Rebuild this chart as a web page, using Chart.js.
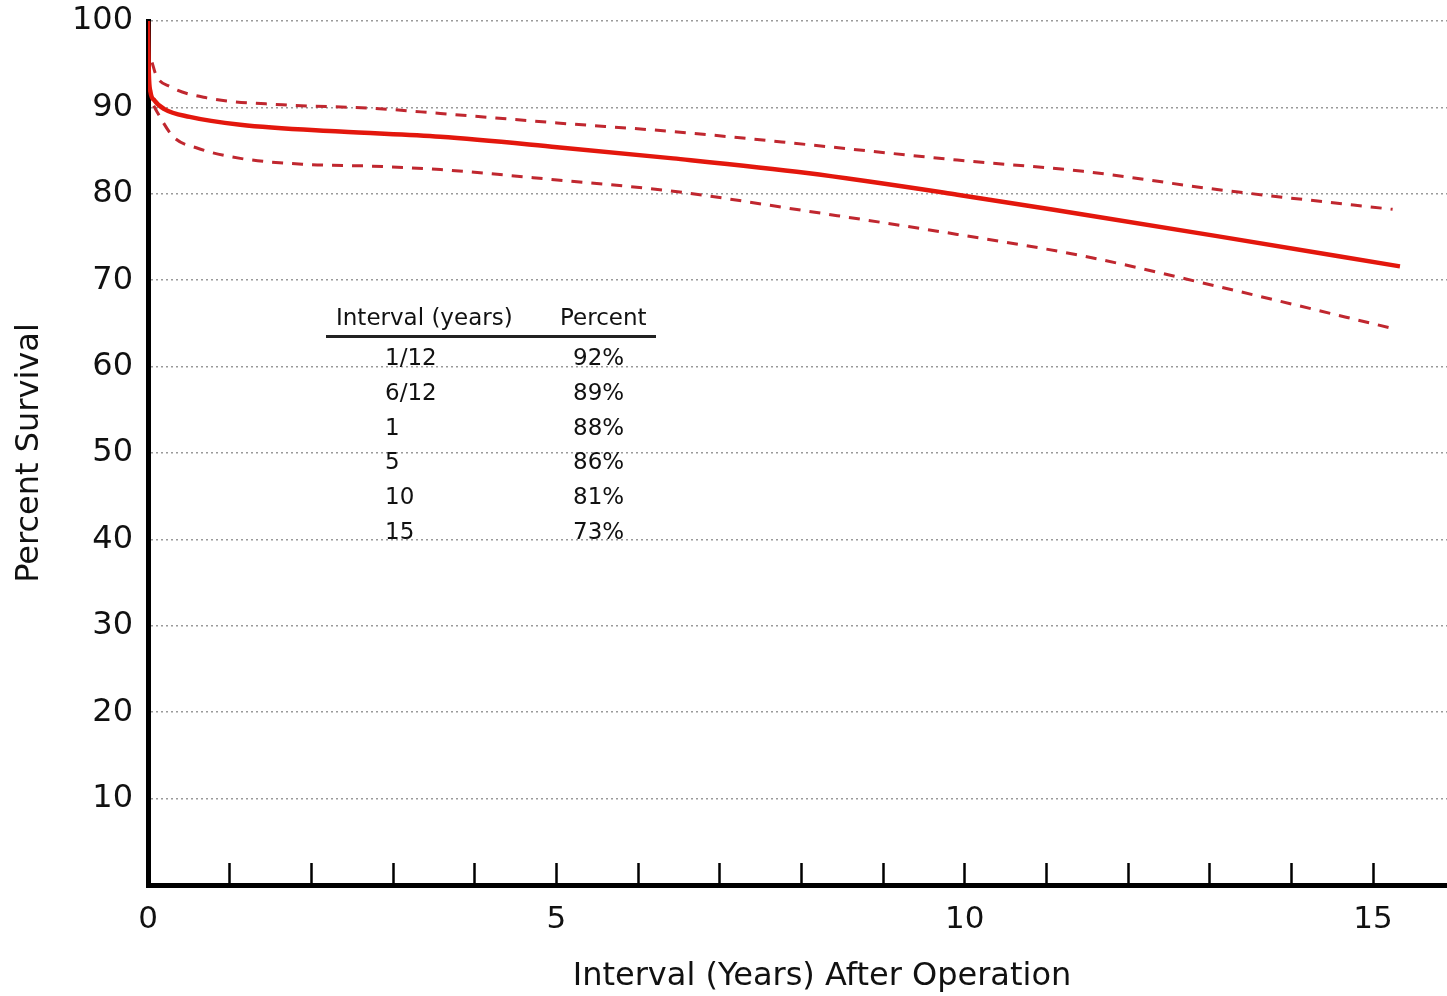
<!DOCTYPE html>
<html>
<head>
<meta charset="utf-8">
<script src="https://cdn.jsdelivr.net/npm/chart.js@4/dist/chart.umd.min.js"></script>
<style>
  html, body { margin: 0; padding: 0; background: #fff; }
  #wrap { position: relative; width: 1447px; height: 996px; }
  #c { position: absolute; left: 0; top: 0; }
  .tbl { position: absolute; font-family: "DejaVu Sans", sans-serif; font-size: 23px; line-height: 28px; color: #111; white-space: nowrap; }
  .xt { position: absolute; font-family: "DejaVu Sans", sans-serif; font-size: 32px; line-height: 36px; color: #111; white-space: nowrap; transform: translateX(-50%); }
  .rule { position: absolute; background: #222; }
</style>
</head>
<body>
<div id="wrap">
  <canvas id="c" width="1447" height="996"></canvas>
</div>
<script>
// ---- data ----
const mainX  = [0, 0.01, 0.03, 0.08, 0.2, 0.51, 1.13, 2.35, 3.58, 5.01, 6.43, 8.07, 9.91, 11.45, 13.09, 15.33];
const mainY  = [100, 94, 91.8, 90.8, 89.8, 88.9, 88.0, 87.2, 86.6, 85.4, 84.1, 82.4, 79.9, 77.6, 75.1, 71.6];
const upperX = [0.05, 0.1, 0.27, 0.72, 1.65, 2.75, 3.58, 5.01, 6.43, 8.07, 9.91, 11.45, 13.09, 15.24];
const upperY = [95.2, 93.7, 92.4, 91.1, 90.3, 89.9, 89.3, 88.2, 87.2, 85.7, 83.9, 82.6, 80.5, 78.2];
const lowerX = [0.07, 0.11, 0.31, 0.6, 1.13, 1.95, 2.75, 3.58, 5.01, 6.43, 8.07, 9.91, 11.45, 13.09, 15.29];
const lowerY = [90.2, 89.5, 86.6, 85.3, 84.1, 83.4, 83.2, 82.8, 81.6, 80.3, 78.0, 75.3, 72.8, 69.3, 64.3];

const tableHeaders   = ['Interval (years)', 'Percent'];
const tableIntervals = ['1/12', '6/12', '1', '5', '10', '15'];
const tablePercents  = ['92%', '89%', '88%', '86%', '81%', '73%'];

const xLabelEvery = 5;
const xTitle = 'Interval (Years) After Operation';
const yTitle = 'Percent Survival';

function pts(xs, ys) { return xs.map((x, i) => ({ x: x, y: ys[i] })); }

// ---- text overlays (real text) ----
const wrap = document.getElementById('wrap');
function addText(txt, left, cy, cls) {
  const d = document.createElement('div');
  d.className = cls || 'tbl';
  d.textContent = txt;
  d.style.left = left + 'px';
  d.style.top = (cy - (cls === 'xt' ? 18 : 14)) + 'px';
  wrap.appendChild(d);
  return d;
}
addText(tableHeaders[0], 336, 317);
addText(tableHeaders[1], 560, 317);
const rule = document.createElement('div');
rule.className = 'rule';
rule.style.left = '326px'; rule.style.top = '335px';
rule.style.width = '330px'; rule.style.height = '3px';
wrap.appendChild(rule);
const rowY0 = 357, rowStep = 34.8;
tableIntervals.forEach((t, i) => addText(t, 385, rowY0 + i * rowStep));
tablePercents.forEach((t, i) => addText(t, 573, rowY0 + i * rowStep));
addText(xTitle, 822, 974, 'xt');

// ---- chart ----
const FONT = '"DejaVu Sans", sans-serif';
new Chart(document.getElementById('c'), {
  type: 'line',
  data: {
    datasets: [
      { data: pts(upperX, upperY), borderColor: '#c0272f', borderWidth: 3, borderDash: [11, 9], pointRadius: 0, cubicInterpolationMode: 'monotone', fill: false },
      { data: pts(lowerX, lowerY), borderColor: '#c0272f', borderWidth: 3, borderDash: [11, 9], pointRadius: 0, cubicInterpolationMode: 'monotone', fill: false },
      { data: pts(mainX, mainY), borderColor: '#e3170d', borderWidth: 4.5, pointRadius: 0, cubicInterpolationMode: 'monotone', fill: false }
    ]
  },
  options: {
    responsive: false,
    animation: false,
    devicePixelRatio: 1,
    layout: { padding: { top: 21, right: 0, left: 0, bottom: 0 } },
    plugins: { legend: { display: false }, tooltip: { enabled: false } },
    scales: {
      x: {
        type: 'linear',
        min: 0,
        max: 15.906,
        afterFit: s => { s.height = 111; s.paddingLeft = 0; s.paddingRight = 0; },
        grid: { drawOnChartArea: false, drawTicks: true, tickLength: -22, tickColor: '#000', tickWidth: 2.5 },
        border: { display: true, color: '#000', width: 5 },
        ticks: {
          stepSize: 1, includeBounds: false, autoSkip: false, maxRotation: 0, minRotation: 0,
          padding: 38, color: '#111', font: { family: FONT, size: 31 },
          callback: v => (v % xLabelEvery === 0 ? String(v) : '')
        }
      },
      y: {
        min: 0,
        max: 100,
        afterFit: s => { s.width = 148; s.paddingTop = 0; s.paddingBottom = 0; },
        grid: { drawTicks: false, color: 'rgba(120,120,120,0.75)', lineWidth: 1.5 },
        border: { display: true, color: '#000', width: 5, dash: [2, 3] },
        ticks: {
          stepSize: 10, padding: 15, color: '#111', font: { family: FONT, size: 32 },
          callback: v => (v === 0 ? '' : String(v))
        },
        title: { display: true, text: yTitle, color: '#111', font: { family: FONT, size: 32, lineHeight: 1 }, padding: { top: 14, bottom: 0 } }
      }
    }
  }
});
</script>
</body>
</html>
